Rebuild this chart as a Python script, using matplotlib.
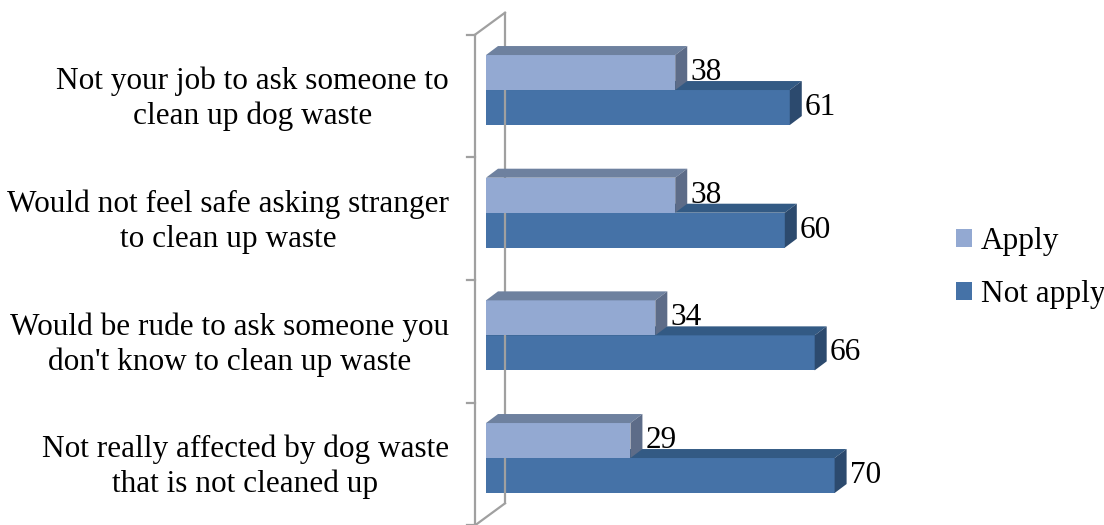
import matplotlib
matplotlib.use("Agg")
import matplotlib.pyplot as plt
from matplotlib.patches import Polygon, Patch

categories = [
    "Not your job to ask someone to\nclean up dog waste",
    "Would not feel safe asking stranger\nto clean up waste",
    "Would be rude to ask someone you\ndon't know to clean up waste",
    "Not really affected by dog waste\nthat is not cleaned up",
]
apply_vals = [38, 38, 34, 29]
not_apply_vals = [61, 60, 66, 70]
series_names = ["Apply", "Not apply"]

# front / top / side shades for the pseudo-3D bars
apply_colors = ("#93A9D2", "#6E819F", "#5D6C88")
not_apply_colors = ("#4572A7", "#335A84", "#2C4A6E")
wall_color = "#A0A0A0"

plt.rcParams["font.family"] = ["Liberation Serif", "DejaVu Serif"]
plt.rcParams["font.size"] = 22.5

W, H = 1104, 525
fig = plt.figure(figsize=(W / 100, H / 100), dpi=100)
ax_left, ax_width = 486, 498
ax = fig.add_axes([ax_left / W, 0, ax_width / W, 1])
ax.set_xlim(0, 100)
ax.set_ylim(-0.546, 3.734)
ax.axis("off")

# pixels per data unit, used to turn screen offsets into data offsets
px_x = ax_width / 100
px_y = H / (3.734 + 0.546)


def dx(p):
    return p / px_x


def dy(p):
    return p / px_y


depth_x, depth_y = dx(12), dy(9)
bar_h = dy(35)
ypos = list(range(len(categories)))[::-1]


def bar3d(y0, val, colors, z):
    front, top, side = colors
    ax.barh(y0, val, height=bar_h, align="edge", color=front,
            edgecolor="none", zorder=z)
    y1 = y0 + bar_h
    ax.add_patch(Polygon([(0, y1), (val, y1), (val + depth_x, y1 + depth_y),
                          (depth_x, y1 + depth_y)], closed=True,
                         facecolor=top, edgecolor="none", zorder=z))
    ax.add_patch(Polygon([(val, y0), (val, y1), (val + depth_x, y1 + depth_y),
                          (val + depth_x, y0 + depth_y)], closed=True,
                         facecolor=side, edgecolor="none", zorder=z))


for i, c in enumerate(ypos):
    bar3d(c - bar_h, not_apply_vals[i], not_apply_colors, 2)
    bar3d(c, apply_vals[i], apply_colors, 3)
    ax.text(apply_vals[i] + depth_x + dx(3), c + bar_h / 2, str(apply_vals[i]),
            ha="left", va="center", zorder=4)
    ax.text(not_apply_vals[i] + depth_x + dx(3), c - bar_h / 2,
            str(not_apply_vals[i]), ha="left", va="center", zorder=4)
    ax.text(-dx(37), c - dy(9), categories[i], ha="right", va="center",
            multialignment="center", linespacing=1.25)

# side wall of the category axis
fx, fy = -dx(11), -dy(6)
bx, by = dx(19), dy(16)
top_b, bot_b = max(ypos) + 0.5, min(ypos) - 0.5
lw = 1.6
ax.plot([fx, fx], [bot_b + fy, top_b + fy], color=wall_color, lw=lw, clip_on=False)
ax.plot([bx, bx], [bot_b + by, top_b + by], color=wall_color, lw=lw, clip_on=False)
ax.plot([fx, bx], [top_b + fy, top_b + by], color=wall_color, lw=lw, clip_on=False)
ax.plot([fx, bx], [bot_b + fy, bot_b + by], color=wall_color, lw=lw, clip_on=False)
for b in [k - 0.5 for k in range(len(categories) + 1)]:
    ax.plot([fx - dx(8), fx], [b + fy, b + fy], color=wall_color, lw=lw,
            clip_on=False)

handles = [Patch(facecolor=apply_colors[0], label=series_names[0]),
           Patch(facecolor=not_apply_colors[0], label=series_names[1])]
fig.legend(handles=handles, loc="center left",
           bbox_to_anchor=(956 / W, (H - 268) / H),
           frameon=False, borderpad=0, borderaxespad=0,
           handlelength=0.5, handleheight=0.5,
           handletextpad=0.3, labelspacing=0.75)

fig.savefig("out.png", dpi=100)
